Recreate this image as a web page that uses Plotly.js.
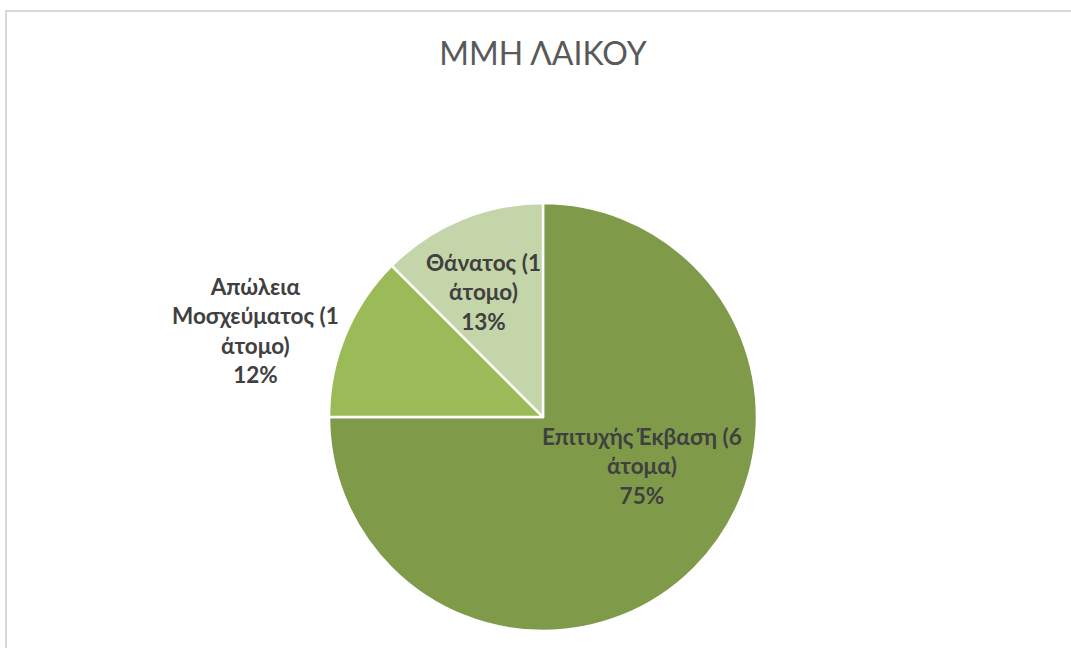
<!DOCTYPE html>
<html>
<head>
<meta charset="utf-8">
<script src="https://cdn.plot.ly/plotly-3.0.1.min.js"></script>
<style>
  html, body { margin: 0; padding: 0; background: #ffffff; }
  #wrap { position: relative; width: 1071px; height: 648px; overflow: hidden; }
  #chart { position: absolute; left: 0; top: 0; width: 1071px; height: 648px; }
  #frame { position: absolute; left: 5px; top: 10px; width: 1200px; height: 800px;
           border-left: 2px solid #d9d9d9; border-top: 2px solid #d9d9d9; pointer-events: none; }
</style>
</head>
<body>
<div id="wrap">
  <div id="chart"></div>
  <div id="frame"></div>
</div>
<script>
// Data
const categories = ["Επιτυχής Έκβαση (6 άτομα)", "Απώλεια Μοσχεύματος (1 άτομο)", "Θάνατος (1 άτομο)"];
const wrappedLabels = ["Επιτυχής Έκβαση (6<br>άτομα)", "Απώλεια<br>Μοσχεύματος (1<br>άτομο)", "Θάνατος (1<br>άτομο)"];
const counts = [6, 1, 1];
const percentLabels = ["75%", "12%", "13%"];

// Styling / layout (not data)
const sliceColors = ["#7f9b49", "#9bbb59", "#c4d6a9"];
// data-label anchor positions in paper fractions (Excel "best fit" placement)
const labelPosX = [0.599, 0.2386, 0.451];
const labelPosY = [0.2809, 0.4905, 0.5494];

const labelFont = { family: "Lato, 'Open Sans', sans-serif", size: 22.5, color: "#404040", weight: 700 };

const trace = {
  type: "pie",
  labels: categories,
  values: counts,
  textinfo: "none",
  sort: false,
  direction: "clockwise",
  rotation: 0,
  marker: { colors: sliceColors, line: { color: "#ffffff", width: 2.5 } },
  domain: { x: [0.3072, 0.7068], y: [0.0262, 0.6867] },
  hoverinfo: "label+percent",
  showlegend: false
};

const annotations = wrappedLabels.map((l, i) => ({
  text: l + "<br>" + percentLabels[i],
  xref: "paper", yref: "paper",
  x: labelPosX[i], y: labelPosY[i],
  xanchor: "center", yanchor: "middle",
  align: "center",
  showarrow: false,
  font: labelFont
}));

const layout = {
  width: 1071,
  height: 648,
  margin: { l: 0, r: 0, t: 0, b: 0 },
  paper_bgcolor: "#ffffff",
  showlegend: false,
  annotations: annotations,
  title: {
    text: "ΜΜΗ ΛΑΙΚΟΥ",
    x: 0.507, xanchor: "center",
    y: 0.917, yanchor: "middle",
    xref: "paper", yref: "container",
    font: { family: "Lato, 'Open Sans', sans-serif", size: 32, color: "#595959", weight: 400 }
  }
};

Plotly.newPlot("chart", [trace], layout, { displayModeBar: false, staticPlot: true });
</script>
</body>
</html>
